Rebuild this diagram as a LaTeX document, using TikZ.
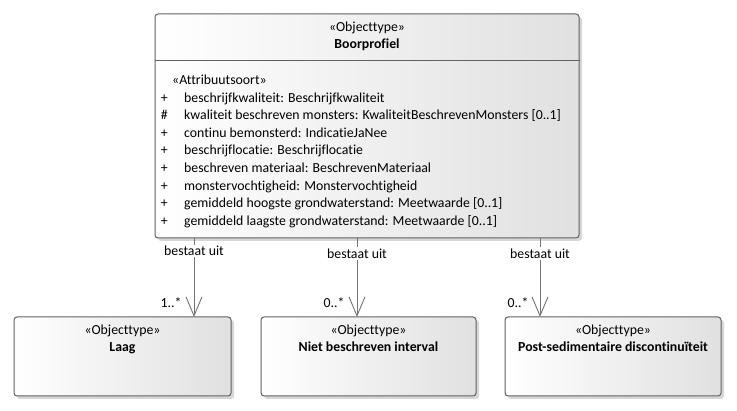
\documentclass[tikz,border=0pt]{standalone}
\usepackage{fontspec}
\setmainfont{Carlito}[Ligatures={NoCommon}]
\usepackage{tikz}
\usetikzlibrary{arrows.meta}
\usetikzlibrary{shadows}

\begin{document}
\begin{tikzpicture}[x=1pt, y=-1pt,
	umlbox/.style={shape=rectangle, draw=black!62, line width=1pt, rounded corners=3pt, inner sep=0pt, left color=white, right color=black!12, drop shadow={shadow xshift=3pt, shadow yshift=-3pt, fill=black!16, opacity=1}},
	txt/.style={inner sep=0pt, font=\fontsize{13.8}{16}\selectfont},
	assoc/.style={draw=black!55, line width=0.9pt, -{Straight Barb[length=19pt, width=16pt, line width=0.9pt]}},
	role/.style={txt, fill=white, inner sep=1.5pt},
	mult/.style={txt, anchor=base east}]
	\useasboundingbox (0,0) rectangle (737,411);
	\node [umlbox, minimum width=424pt, minimum height=224pt] (0) at (367,126) {};
	\node [umlbox, minimum width=217pt, minimum height=79pt] (1) at (122.5,356.5) {};
	\node [umlbox, minimum width=215pt, minimum height=79pt] (2) at (368.5,356.5) {};
	\node [umlbox, minimum width=216pt, minimum height=79pt] (3) at (613,356.5) {};
	\draw [draw=black!62, line width=1pt] (0.west |- 0,61) -- (0.east |- 0,61);
	\node [txt, anchor=base] (0s) at (367,31.5) {«Objecttype»};
	\node [txt, anchor=base] (0n) at (367,49) {\textbf{Boorprofiel}};
	\node [txt, anchor=base west] (0a) at (160,84.5) {\fontsize{13.8}{17.6}\selectfont
		\begin{tabular}[t]{@{}l@{\hspace{16pt}}l@{}}
		\multicolumn{2}{@{}l@{}}{\hspace{12pt}«Attribuutsoort»}\\
		\makebox[8pt]{+} & beschrijfkwaliteit: Beschrijfkwaliteit\\
		\makebox[8pt]{\#} & kwaliteit beschreven monsters: KwaliteitBeschrevenMonsters [0..1]\\
		\makebox[8pt]{+} & continu bemonsterd: IndicatieJaNee\\
		\makebox[8pt]{+} & beschrijflocatie: Beschrijflocatie\\
		\makebox[8pt]{+} & beschreven materiaal: BeschrevenMateriaal\\
		\makebox[8pt]{+} & monstervochtigheid: Monstervochtigheid\\
		\makebox[8pt]{+} & gemiddeld hoogste grondwaterstand: Meetwaarde [0..1]\\
		\makebox[8pt]{+} & gemiddeld laagste grondwaterstand: Meetwaarde [0..1]
		\end{tabular}};
	\node [txt, anchor=base] (1s) at (122.5,334.5) {«Objecttype»};
	\node [txt, anchor=base] (1n) at (122.5,351.5) {\textbf{Laag}};
	\node [txt, anchor=base] (2s) at (368.5,334.5) {«Objecttype»};
	\node [txt, anchor=base] (2n) at (368.5,351.5) {\textbf{Niet beschreven interval}};
	\node [txt, anchor=base] (3s) at (613,334.5) {«Objecttype»};
	\node [txt, anchor=base] (3n) at (613,351.5) {\textbf{Post-sedimentaire discontinuïteit}};
	\coordinate (1t) at (194,317);
	\coordinate (2t) at (357,317);
	\coordinate (3t) at (540,317);
	\draw [assoc] (1t |- 0.south) -- node [role, pos=0.16] {bestaat uit} node [mult, at end, xshift=-12pt, yshift=9.5pt] {1..*} (1t);
	\draw [assoc] (2t |- 0.south) -- node [role, pos=0.19] {bestaat uit} node [mult, at end, xshift=-12pt, yshift=9.5pt] {0..*} (2t);
	\draw [assoc] (3t |- 0.south) -- node [role, pos=0.19] {bestaat uit} node [mult, at end, xshift=-11pt, yshift=9.5pt] {0..*} (3t);
\end{tikzpicture}
\end{document}
